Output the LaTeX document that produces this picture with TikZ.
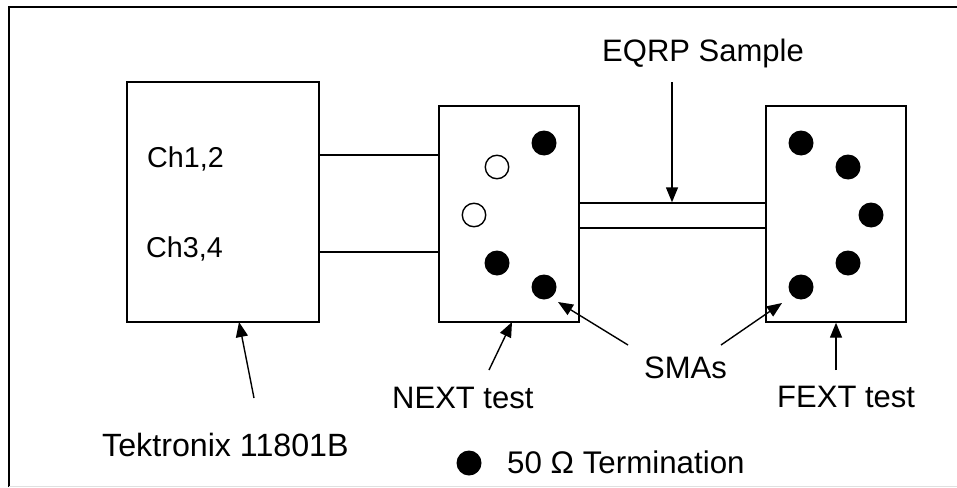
\documentclass[tikz,border=0pt]{standalone}
\usepackage{fontspec}
\setmainfont{Liberation Sans}
\usetikzlibrary{arrows.meta}
\begin{document}
\begin{tikzpicture}[x=1pt,y=-1pt,
  box/.style={draw,line width=1.4pt,inner sep=0pt},
  lbl/.style={anchor=base west,inner sep=0pt,font=\fontsize{31}{36}\selectfont},
  chl/.style={anchor=base west,inner sep=0pt,font=\fontsize{28.7}{34}\selectfont},
  term/.style={circle,fill=black,minimum size=25pt,inner sep=0pt},
  opn/.style={circle,draw,line width=1.4pt,minimum size=23.5pt,inner sep=0pt},
  wire/.style={line width=1.4pt},
  pointer/.style={line width=1.4pt,-{Triangle[length=15pt,width=12pt]}}]
\useasboundingbox (0,0) rectangle (957,487);
% frame
\draw[line width=2pt] (9,487) -- (9,7.5) -- (957,7.5);
\draw[line width=1pt,black!12] (9,486) -- (957,486);
% boxes
\node[box,minimum width=192pt,minimum height=240pt] (tek) at (223,202) {};
\node[box,minimum width=140pt,minimum height=216pt] (next) at (509,214) {};
\node[box,minimum width=140pt,minimum height=216pt] (fext) at (836,214) {};
\node[box,minimum width=187pt,minimum height=25pt] (sample) at (672.5,215.5) {};
% channel labels
\node[chl] (ch12) at (147,167) {Ch1,2};
\node[chl] (ch34) at (146,257) {Ch3,4};
% cables
\coordinate (y1) at (0,155);
\coordinate (y2) at (0,252);
\draw[wire] (tek.east |- y1) -- (next.west |- y1);
\draw[wire] (tek.east |- y2) -- (next.west |- y2);
% NEXT connectors
\node[term] (n1) at (544,143) {};
\node[opn]  (n2) at (497,167) {};
\node[opn]  (n3) at (474,215) {};
\node[term] (n4) at (497,263) {};
\node[term] (n5) at (544,287) {};
% FEXT connectors
\node[term] (f1) at (801,143) {};
\node[term] (f2) at (848,167) {};
\node[term] (f3) at (871,215) {};
\node[term] (f4) at (848,263) {};
\node[term] (f5) at (801,287) {};
% labels
\node[lbl] (eqrp) at (602,62) {EQRP Sample};
\node[lbl] (smas) at (644,378) {SMAs};
\node[lbl] (nextt) at (392,408) {NEXT test};
\node[lbl] (fextt) at (777,407) {FEXT test};
\node[lbl,font=\fontsize{32.2}{38}\selectfont] (tekt) at (102,456.5) {Tektronix 11801B};
\node[term] (leg) at (469,463) {};
\node[lbl,font=\fontsize{31.3}{36}\selectfont] (legt) at (507,473) {50 \symbol{"03A9} Termination};
% pointers
\coordinate (eqs) at (672,82);
\draw[pointer] (eqs) -- (sample.north -| eqs);
\coordinate (sm1) at (628,345);
\coordinate (sm1e) at (558,302);
\draw[pointer] (sm1) -- (sm1e);
\coordinate (sm2) at (721,345);
\coordinate (sm2e) at (782,303);
\draw[pointer] (sm2) -- (sm2e);
\coordinate (nxs) at (489,370);
\coordinate (nxe) at (512,322);
\draw[pointer] (nxs) -- (nxe);
\coordinate (fxs) at (836,370);
\draw[pointer] (fxs) -- (fext.south);
\coordinate (tks) at (254,398);
\coordinate (tke) at (239,322);
\draw[pointer] (tks) -- (tke);
\end{tikzpicture}
\end{document}
